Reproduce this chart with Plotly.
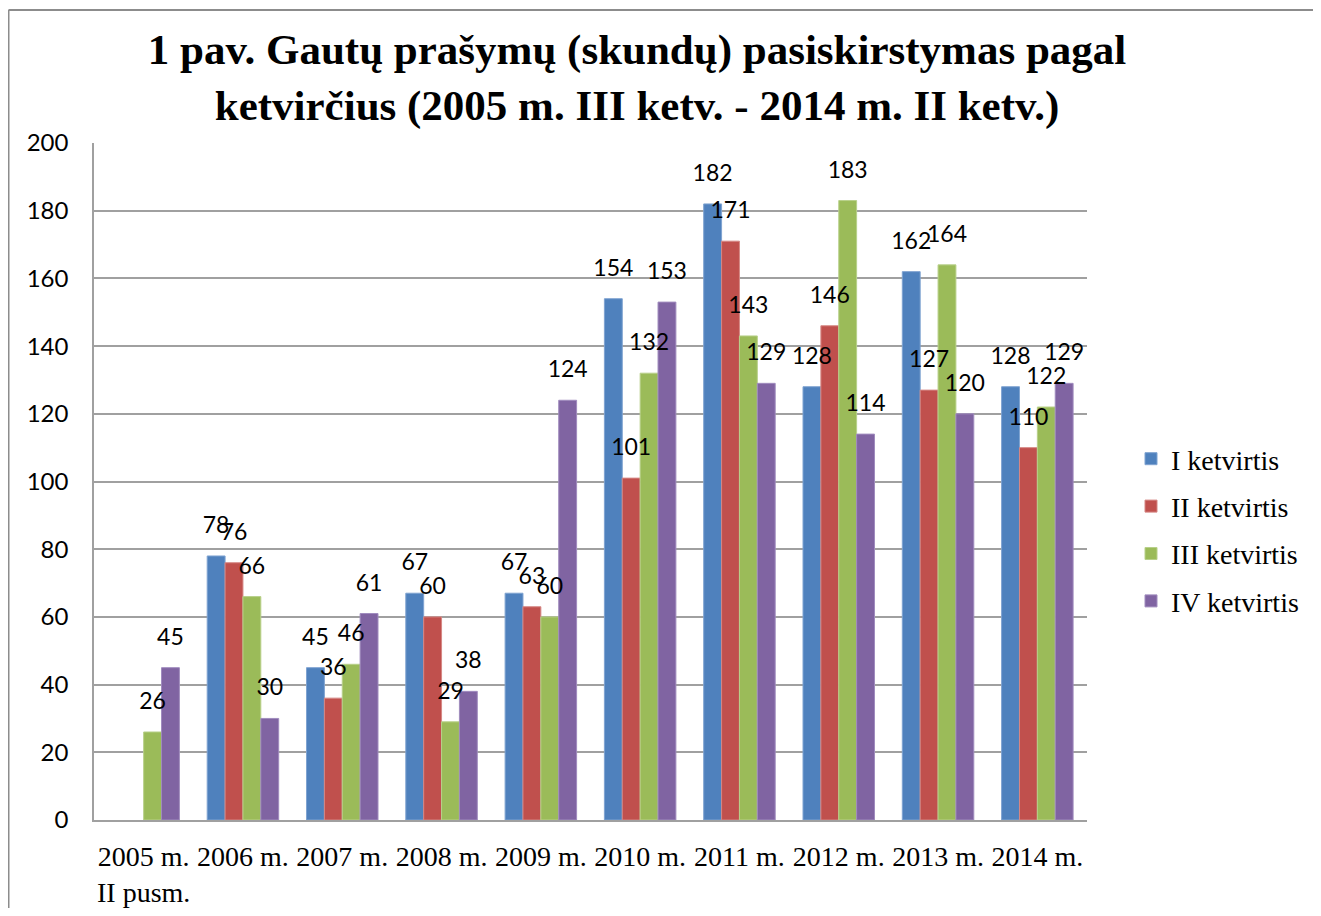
import plotly.graph_objects as go

categories = ["2005 m.<br>II pusm.", "2006 m.", "2007 m.", "2008 m.", "2009 m.",
              "2010 m.", "2011 m.", "2012 m.", "2013 m.", "2014 m."]
q1 = [None, 78, 45, 67, 67, 154, 182, 128, 162, 128]
q2 = [None, 76, 36, 60, 63, 101, 171, 146, 127, 110]
q3 = [26, 66, 46, 29, 60, 132, 143, 183, 164, 122]
q4 = [45, 30, 61, 38, 124, 153, 129, 114, 120, 129]
series_names = ["I ketvirtis", "II ketvirtis", "III ketvirtis", "IV ketvirtis"]
colors = ["#4F81BD", "#C0504D", "#9BBB59", "#8064A2"]
edges = ["#7FA3D1", "#D58784", "#B8D08A", "#A08CBE"]
title_text = "<b>1 pav. Gautų prašymų (skundų) pasiskirstymas pagal<br>ketvirčius (2005 m. III ketv. - 2014 m. II ketv.)</b>"

BAR_W = 0.18
idx = list(range(len(categories)))
series = [q1, q2, q3, q4]

fig = go.Figure()
for k, (name, vals, c, e) in enumerate(zip(series_names, series, colors, edges)):
    xs = [i + (k - 1.5) * BAR_W for i in idx]
    fig.add_trace(go.Bar(
        x=xs, y=vals, name=name, width=BAR_W, legendgroup=name,
        marker=dict(color=c, line=dict(color=e, width=1)),
        hoverinfo="y",
    ))
# value labels drawn above all bars
for k, vals in enumerate(series):
    xs = [i + (k - 1.5) * BAR_W for i in idx]
    fig.add_trace(go.Scatter(
        x=xs, y=vals, mode="markers+text", showlegend=False, hoverinfo="skip",
        marker=dict(size=26, opacity=0),
        text=[("" if v is None else str(v)) for v in vals],
        textposition="top center",
        textfont=dict(family="Lato, Open Sans, sans-serif", size=23, color="black"),
        cliponaxis=False,
    ))

OFF = 8  # page body offset
W, H = 1321 - 2 * OFF, 916 - 2 * OFF
ml, mt = 94 - OFF, 143 - OFF
mr = W - (1087 - OFF)
mb = H - (820 - OFF)
pw, ph = W - ml - mr, H - mt - mb

fig.update_layout(
    width=W, height=H,
    margin=dict(l=ml, r=mr, t=mt, b=mb, autoexpand=False),
    paper_bgcolor="white", plot_bgcolor="white",
    barmode="overlay",
    title=dict(text=title_text, x=(637 - OFF) / W, xref="container", xanchor="center",
               y=1 - (64 - OFF) / H, yref="container", yanchor="middle",
               font=dict(family="Liberation Serif, Times New Roman, serif", size=43, color="black")),
    showlegend=True,
    legend=dict(x=(1131 - OFF) / W, xref="container", y=1 - (434 - OFF) / H, yref="container",
                xanchor="left", yanchor="top",
                font=dict(family="Liberation Serif, Times New Roman, serif", size=28, color="black"),
                bgcolor="rgba(0,0,0,0)", itemwidth=30, tracegroupgap=8),
)
fig.update_yaxes(range=[0, 200], dtick=20, showgrid=True, gridcolor="#A0A0A0", gridwidth=1.5,
                 showline=True, linecolor="#A0A0A0", linewidth=1.5, ticks="",
                 ticklabelstandoff=19, zeroline=False, automargin=False,
                 tickfont=dict(family="Lato, Open Sans, sans-serif", size=24, color="black"))
fig.update_xaxes(range=[-0.5, len(categories) - 0.5], tickmode="array", tickvals=idx,
                 ticktext=categories, showgrid=False, zeroline=False, automargin=False,
                 showline=True, linecolor="#A0A0A0", linewidth=2, ticks="",
                 ticklabelstandoff=10,
                 tickfont=dict(family="Liberation Serif, Times New Roman, serif", size=28, color="black"))

# outer frame
x_left = (0.5 - ml) / pw
y_top = 1 + (mt - (10 - OFF)) / ph
fig.add_shape(type="line", xref="paper", yref="paper", x0=x_left, x1=x_left,
              y0=y_top, y1=-(mb + 5) / ph, line=dict(color="#8C8C8C", width=2))
fig.add_shape(type="line", xref="paper", yref="paper", x0=x_left, x1=(W + 5 - ml) / pw,
              y0=y_top, y1=y_top, line=dict(color="#8C8C8C", width=2))

fig.write_html("out.html")
